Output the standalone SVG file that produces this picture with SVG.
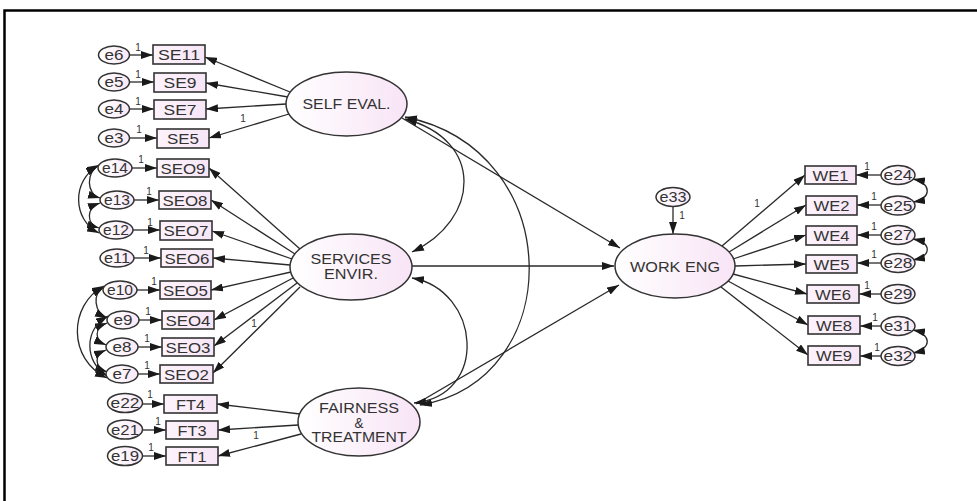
<svg xmlns="http://www.w3.org/2000/svg" width="977" height="501" viewBox="0 0 977 501">
<style>
text{font-family:"Liberation Sans",Arial,sans-serif;fill:#333;text-anchor:middle}
.obs{font-size:15px}
.err{font-size:14.5px}
.lat{font-size:14px}
.one{font-size:10px;fill:#333}
.box{fill:url(#gBox);stroke:#333;stroke-width:1.6}
.eel{fill:url(#gErr);stroke:#333;stroke-width:1.5}
.lel{fill:url(#gLat);stroke:#333;stroke-width:1.5}
.ln{fill:none;stroke:#2a2a2a;stroke-width:1.3;marker-end:url(#ah)}
.cv{fill:none;stroke:#2a2a2a;stroke-width:1.3;marker-start:url(#ah);marker-end:url(#ah)}
</style>
<defs>
<marker id="ah" viewBox="0 0 12 8" refX="12" refY="4" markerWidth="12" markerHeight="8" markerUnits="userSpaceOnUse" orient="auto-start-reverse"><path d="M0,0 L12,4 L0,8 z" fill="#1a1a1a"/></marker>
<linearGradient id="gLat" x1="0" y1="0" x2="1" y2="0"><stop offset="0" stop-color="#ffffff"/><stop offset="1" stop-color="#f8e4f6"/></linearGradient>
<linearGradient id="gBox" x1="0" y1="0" x2="1" y2="0"><stop offset="0" stop-color="#fdf3fc"/><stop offset="1" stop-color="#f7e6f6"/></linearGradient>
<linearGradient id="gErr" x1="0" y1="0" x2="1" y2="0"><stop offset="0" stop-color="#ffffff"/><stop offset="1" stop-color="#f8e8f6"/></linearGradient>
</defs>
<rect x="0" y="0" width="977" height="501" fill="#fff"/>
<path d="M4.5,501 V10.5 H977" fill="none" stroke="#000" stroke-width="2.5"/>

<g id="connectors">
<path class="ln" d="M290,92 L205,57"/>
<path class="ln" d="M288,97 L206,83"/>
<path class="ln" d="M286,104 L206,109"/>
<path class="ln" d="M289,114 L209,138"/>
<path class="ln" d="M300,249 L209,168"/>
<path class="ln" d="M295,254 L211,200"/>
<path class="ln" d="M292,259 L212,231"/>
<path class="ln" d="M290,265 L213,258"/>
<path class="ln" d="M291,272 L211,290"/>
<path class="ln" d="M293,278 L214,320"/>
<path class="ln" d="M297,283 L214,346"/>
<path class="ln" d="M300,287 L213,373"/>
<path class="ln" d="M300,414 L217,404"/>
<path class="ln" d="M298,425 L218,430"/>
<path class="ln" d="M301,434 L218,456"/>
<path class="ln" d="M722,246 L805,175"/>
<path class="ln" d="M729,252 L806,205"/>
<path class="ln" d="M733,259 L806,235"/>
<path class="ln" d="M735,266 L806,264"/>
<path class="ln" d="M733,274 L807,294"/>
<path class="ln" d="M728,281 L808,325"/>
<path class="ln" d="M721,287 L808,355"/>
<path class="ln" d="M402,118 L620,248"/>
<path class="ln" d="M412,266 L614,266"/>
<path class="ln" d="M416,404 L619,285"/>
<path class="ln" d="M673,206 L673,234"/>
<path class="cv" d="M405,119 C485,140 480,220 412,252"/>
<path class="cv" d="M405,117 C568,150 568,380 420,405"/>
<path class="cv" d="M412,278 C480,290 490,395 414,403"/>
<path class="ln" d="M129.5,55 L153,55"/>
<path class="ln" d="M129.5,82 L154,82"/>
<path class="ln" d="M129.5,109 L154,109"/>
<path class="ln" d="M129.5,138 L157,138"/>
<path class="ln" d="M132,168 L157,168"/>
<path class="ln" d="M134,200 L159,200"/>
<path class="ln" d="M133,230 L160,230"/>
<path class="ln" d="M134,258 L161,258"/>
<path class="ln" d="M137,290 L160,290"/>
<path class="ln" d="M139,320 L162,320"/>
<path class="ln" d="M138,347 L162,347"/>
<path class="ln" d="M138,374 L160,374"/>
<path class="ln" d="M142.5,404 L164,404"/>
<path class="ln" d="M142.5,430 L166,430"/>
<path class="ln" d="M142.5,456 L166,456"/>
<path class="ln" d="M881,175 L856,175"/>
<path class="ln" d="M881,205 L857,205"/>
<path class="ln" d="M881,235 L857,235"/>
<path class="ln" d="M881,263 L857,263"/>
<path class="ln" d="M881,294 L859,294"/>
<path class="ln" d="M881,326 L860,326"/>
<path class="ln" d="M881,356 L860,356"/>
<path class="cv" d="M99,165 C86,172 86,194 100,198"/>
<path class="cv" d="M100,203 C86,208 86,224 99,228"/>
<path class="cv" d="M98,166 C72,180 72,220 99,233"/>
<path class="cv" d="M104,287 C92,294 94,312 107,318"/>
<path class="cv" d="M107,323 C94,328 94,340 106,345"/>
<path class="cv" d="M106,350 C94,355 94,367 107,372"/>
<path class="cv" d="M108,316 C84,330 84,360 107,376"/>
<path class="cv" d="M104,286 C68,305 68,360 107,378"/>
<path class="cv" d="M913,179 C932,183 932,199 913,202"/>
<path class="cv" d="M913,239 C932,243 932,256 913,260"/>
<path class="cv" d="M913,330 C932,334 932,349 913,353"/>
</g>

<g id="SELF_EVAL"><ellipse class="lel" cx="346.5" cy="104" rx="60.5" ry="32"/><text class="lat" x="346.5" y="109" textLength="88" lengthAdjust="spacingAndGlyphs">SELF EVAL.</text></g>
<g id="SERVICES_ENVIR"><ellipse class="lel" cx="351" cy="267" rx="61" ry="33"/><text class="lat" x="351" y="264" textLength="81" lengthAdjust="spacingAndGlyphs">SERVICES</text><text class="lat" x="351" y="278.5" textLength="54" lengthAdjust="spacingAndGlyphs">ENVIR.</text></g>
<g id="FAIRNESS"><ellipse class="lel" cx="359" cy="422" rx="61" ry="34"/><text class="lat" x="359" y="413" textLength="80" lengthAdjust="spacingAndGlyphs">FAIRNESS</text><text class="lat" x="359" y="427.5" textLength="9" lengthAdjust="spacingAndGlyphs">&amp;</text><text class="lat" x="359" y="442" textLength="95" lengthAdjust="spacingAndGlyphs">TREATMENT</text></g>
<g id="WORK_ENG"><ellipse class="lel" cx="675" cy="266" rx="60" ry="32"/><text class="lat" x="675" y="271.5" style="font-size:15px" textLength="90" lengthAdjust="spacingAndGlyphs">WORK ENG</text></g>
<g id="e33"><ellipse class="eel" cx="673" cy="197" rx="17" ry="9.5"/><text class="err" x="673" y="202" textLength="27" lengthAdjust="spacingAndGlyphs">e33</text><text class="one" x="682" y="219">1</text></g>

<g id="SE11"><rect class="box" x="153" y="45" width="52" height="19"/><text class="obs" x="179" y="60" textLength="42" lengthAdjust="spacingAndGlyphs">SE11</text></g>
<g id="SE9"><rect class="box" x="154" y="73" width="52" height="19"/><text class="obs" x="180" y="88" textLength="33" lengthAdjust="spacingAndGlyphs">SE9</text></g>
<g id="SE7"><rect class="box" x="154" y="100" width="52" height="19"/><text class="obs" x="180" y="115" textLength="33" lengthAdjust="spacingAndGlyphs">SE7</text></g>
<g id="SE5"><rect class="box" x="157" y="129" width="52" height="19"/><text class="obs" x="183" y="144" textLength="32" lengthAdjust="spacingAndGlyphs">SE5</text><text class="one" x="243" y="122">1</text></g>
<g id="e6"><ellipse class="eel" cx="114" cy="55" rx="15.5" ry="9"/><text class="err" x="114" y="60" textLength="19" lengthAdjust="spacingAndGlyphs">e6</text><text class="one" x="138" y="51">1</text></g>
<g id="e5"><ellipse class="eel" cx="114" cy="82" rx="15.5" ry="9"/><text class="err" x="114" y="87" textLength="19" lengthAdjust="spacingAndGlyphs">e5</text><text class="one" x="138" y="78">1</text></g>
<g id="e4"><ellipse class="eel" cx="114" cy="109" rx="15.5" ry="9"/><text class="err" x="114" y="114" textLength="19" lengthAdjust="spacingAndGlyphs">e4</text><text class="one" x="138" y="105">1</text></g>
<g id="e3"><ellipse class="eel" cx="114" cy="138" rx="15.5" ry="9"/><text class="err" x="114" y="143" textLength="19" lengthAdjust="spacingAndGlyphs">e3</text><text class="one" x="139" y="133">1</text></g>

<g id="SEO9"><rect class="box" x="157" y="159" width="52" height="18"/><text class="obs" x="183" y="173.5" textLength="45" lengthAdjust="spacingAndGlyphs">SEO9</text></g>
<g id="SEO8"><rect class="box" x="159" y="191" width="52" height="18"/><text class="obs" x="185" y="205.5" textLength="45" lengthAdjust="spacingAndGlyphs">SEO8</text></g>
<g id="SEO7"><rect class="box" x="160" y="221" width="52" height="19"/><text class="obs" x="186" y="236" textLength="45" lengthAdjust="spacingAndGlyphs">SEO7</text></g>
<g id="SEO6"><rect class="box" x="161" y="249" width="52" height="18"/><text class="obs" x="187" y="263.5" textLength="45" lengthAdjust="spacingAndGlyphs">SEO6</text></g>
<g id="SEO5"><rect class="box" x="160" y="281" width="51" height="18"/><text class="obs" x="185.5" y="295.5" textLength="45" lengthAdjust="spacingAndGlyphs">SEO5</text></g>
<g id="SEO4"><rect class="box" x="162" y="311" width="52" height="18"/><text class="obs" x="188" y="325.5" textLength="45" lengthAdjust="spacingAndGlyphs">SEO4</text></g>
<g id="SEO3"><rect class="box" x="162" y="338" width="52" height="18"/><text class="obs" x="188" y="352.5" textLength="45" lengthAdjust="spacingAndGlyphs">SEO3</text><text class="one" x="254" y="327">1</text></g>
<g id="SEO2"><rect class="box" x="160" y="365" width="53" height="18"/><text class="obs" x="186.5" y="379.5" textLength="45" lengthAdjust="spacingAndGlyphs">SEO2</text></g>
<g id="e14"><ellipse class="eel" cx="115" cy="168" rx="17" ry="9"/><text class="err" x="115" y="173" textLength="26" lengthAdjust="spacingAndGlyphs">e14</text><text class="one" x="141" y="163">1</text></g>
<g id="e13"><ellipse class="eel" cx="117" cy="200" rx="17" ry="9"/><text class="err" x="117" y="205" textLength="26" lengthAdjust="spacingAndGlyphs">e13</text><text class="one" x="149" y="195">1</text></g>
<g id="e12"><ellipse class="eel" cx="116" cy="230" rx="17" ry="9"/><text class="err" x="116" y="235" textLength="26" lengthAdjust="spacingAndGlyphs">e12</text><text class="one" x="150" y="226">1</text></g>
<g id="e11"><ellipse class="eel" cx="117" cy="258" rx="17" ry="9"/><text class="err" x="117" y="263" textLength="26" lengthAdjust="spacingAndGlyphs">e11</text><text class="one" x="146" y="254">1</text></g>
<g id="e10"><ellipse class="eel" cx="120" cy="290" rx="17" ry="9"/><text class="err" x="120" y="295" textLength="26" lengthAdjust="spacingAndGlyphs">e10</text><text class="one" x="154" y="285">1</text></g>
<g id="e9"><ellipse class="eel" cx="123" cy="320" rx="16" ry="9"/><text class="err" x="123" y="325" textLength="19" lengthAdjust="spacingAndGlyphs">e9</text><text class="one" x="148" y="315">1</text></g>
<g id="e8"><ellipse class="eel" cx="122" cy="347" rx="16" ry="9"/><text class="err" x="122" y="352" textLength="19" lengthAdjust="spacingAndGlyphs">e8</text><text class="one" x="147" y="342">1</text></g>
<g id="e7"><ellipse class="eel" cx="122" cy="374" rx="16" ry="9"/><text class="err" x="122" y="379" textLength="19" lengthAdjust="spacingAndGlyphs">e7</text><text class="one" x="147" y="369">1</text></g>

<g id="FT4"><rect class="box" x="164" y="395" width="53" height="18"/><text class="obs" x="190.5" y="409.5" textLength="29" lengthAdjust="spacingAndGlyphs">FT4</text></g>
<g id="FT3"><rect class="box" x="166" y="421" width="52" height="18"/><text class="obs" x="192" y="435.5" textLength="29" lengthAdjust="spacingAndGlyphs">FT3</text><text class="one" x="256" y="439">1</text></g>
<g id="FT1"><rect class="box" x="166" y="447" width="52" height="18"/><text class="obs" x="192" y="461.5" textLength="29" lengthAdjust="spacingAndGlyphs">FT1</text></g>
<g id="e22"><ellipse class="eel" cx="125" cy="403" rx="17.5" ry="9.5"/><text class="err" x="125" y="408" textLength="29" lengthAdjust="spacingAndGlyphs">e22</text><text class="one" x="150" y="398">1</text></g>
<g id="e21"><ellipse class="eel" cx="125" cy="429.5" rx="17.5" ry="9.5"/><text class="err" x="125" y="434.5" textLength="28" lengthAdjust="spacingAndGlyphs">e21</text><text class="one" x="158" y="425">1</text></g>
<g id="e19"><ellipse class="eel" cx="125" cy="456" rx="17.5" ry="9.5"/><text class="err" x="125" y="461" textLength="28" lengthAdjust="spacingAndGlyphs">e19</text><text class="one" x="151" y="451">1</text></g>

<g id="WE1"><rect class="box" x="805" y="166" width="51" height="18"/><text class="obs" x="830.5" y="180.5" textLength="36" lengthAdjust="spacingAndGlyphs">WE1</text><text class="one" x="757" y="207">1</text></g>
<g id="WE2"><rect class="box" x="806" y="196" width="51" height="19"/><text class="obs" x="831.5" y="211" textLength="36" lengthAdjust="spacingAndGlyphs">WE2</text></g>
<g id="WE4"><rect class="box" x="806" y="226" width="51" height="19"/><text class="obs" x="831.5" y="241" textLength="36" lengthAdjust="spacingAndGlyphs">WE4</text></g>
<g id="WE5"><rect class="box" x="806" y="255" width="51" height="18"/><text class="obs" x="831.5" y="269.5" textLength="36" lengthAdjust="spacingAndGlyphs">WE5</text></g>
<g id="WE6"><rect class="box" x="807" y="285" width="52" height="18"/><text class="obs" x="833" y="299.5" textLength="36" lengthAdjust="spacingAndGlyphs">WE6</text></g>
<g id="WE8"><rect class="box" x="808" y="316" width="52" height="18"/><text class="obs" x="834" y="330.5" textLength="36" lengthAdjust="spacingAndGlyphs">WE8</text></g>
<g id="WE9"><rect class="box" x="808" y="346" width="52" height="19"/><text class="obs" x="834" y="361" textLength="36" lengthAdjust="spacingAndGlyphs">WE9</text></g>
<g id="e24"><ellipse class="eel" cx="898" cy="175" rx="17" ry="9.5"/><text class="err" x="898" y="180" textLength="29" lengthAdjust="spacingAndGlyphs">e24</text><text class="one" x="867" y="170">1</text></g>
<g id="e25"><ellipse class="eel" cx="898" cy="205.5" rx="17" ry="9.5"/><text class="err" x="898" y="210.5" textLength="29" lengthAdjust="spacingAndGlyphs">e25</text><text class="one" x="874" y="200">1</text></g>
<g id="e27"><ellipse class="eel" cx="898" cy="235" rx="17" ry="9.5"/><text class="err" x="898" y="240" textLength="29" lengthAdjust="spacingAndGlyphs">e27</text><text class="one" x="874" y="230">1</text></g>
<g id="e28"><ellipse class="eel" cx="898" cy="263" rx="17" ry="9.5"/><text class="err" x="898" y="268" textLength="29" lengthAdjust="spacingAndGlyphs">e28</text><text class="one" x="874" y="258">1</text></g>
<g id="e29"><ellipse class="eel" cx="898" cy="294" rx="17" ry="9.5"/><text class="err" x="898" y="299" textLength="29" lengthAdjust="spacingAndGlyphs">e29</text><text class="one" x="867" y="289">1</text></g>
<g id="e31"><ellipse class="eel" cx="898" cy="326" rx="17" ry="9.5"/><text class="err" x="898" y="331" textLength="28" lengthAdjust="spacingAndGlyphs">e31</text><text class="one" x="875" y="321">1</text></g>
<g id="e32"><ellipse class="eel" cx="898" cy="356" rx="17" ry="9.5"/><text class="err" x="898" y="361" textLength="29" lengthAdjust="spacingAndGlyphs">e32</text><text class="one" x="877" y="351">1</text></g>
</svg>
